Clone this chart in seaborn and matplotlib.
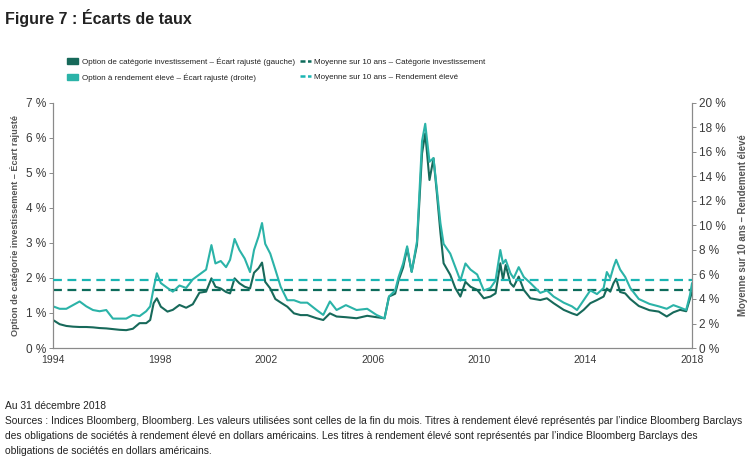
import numpy as np
import pandas as pd
import matplotlib
matplotlib.use("Agg")
import matplotlib.pyplot as plt
from matplotlib.lines import Line2D
from matplotlib.patches import Patch
import seaborn as sns

# Dates (fractional years on the chart's axis)
dates = [1994.00, 1994.25, 1994.50, 1994.75, 1995.00, 1995.25, 1995.50, 1995.75,
         1996.00, 1996.25, 1996.50, 1996.75, 1997.00, 1997.25, 1997.50, 1997.65,
         1997.78, 1997.90, 1998.05, 1998.30, 1998.50, 1998.75, 1999.00, 1999.25,
         1999.50, 1999.75, 1999.95, 2000.10, 2000.30, 2000.50, 2000.65, 2000.82,
         2001.00, 2001.20, 2001.40, 2001.55, 2001.72, 2001.85, 2001.97, 2002.16,
         2002.35, 2002.55, 2002.80, 2003.05, 2003.30, 2003.55, 2003.90, 2004.15,
         2004.40, 2004.65, 2005.00, 2005.40, 2005.80, 2006.15, 2006.45, 2006.62,
         2006.85, 2006.98, 2007.15, 2007.30, 2007.47, 2007.67, 2007.86, 2007.98,
         2008.14, 2008.29, 2008.42, 2008.55, 2008.67, 2008.92, 2009.11, 2009.30,
         2009.49, 2009.68, 2009.93, 2010.18, 2010.43, 2010.62, 2010.80, 2010.90,
         2011.00, 2011.18, 2011.30, 2011.49, 2011.68, 2011.93, 2012.30, 2012.55,
         2012.80, 2013.18, 2013.49, 2013.68, 2013.93, 2014.18, 2014.43, 2014.68,
         2014.80, 2014.93, 2015.05, 2015.15, 2015.30, 2015.49, 2015.68, 2016.00,
         2016.40, 2016.75, 2017.05, 2017.30, 2017.55, 2017.78, 2017.92, 2018.00]

# Investment grade adjusted spread (left axis, %)
ig_spread = [0.80, 0.68, 0.63, 0.61, 0.60, 0.60, 0.59, 0.57,
             0.56, 0.54, 0.52, 0.51, 0.55, 0.71, 0.71, 0.80,
             1.28, 1.42, 1.18, 1.04, 1.09, 1.23, 1.15, 1.25,
             1.58, 1.61, 1.99, 1.75, 1.70, 1.60, 1.56, 1.99,
             1.85, 1.75, 1.70, 2.15, 2.28, 2.44, 1.89, 1.70,
             1.40, 1.30, 1.18, 0.99, 0.94, 0.94, 0.85, 0.80,
             0.99, 0.90, 0.88, 0.85, 0.92, 0.88, 0.85, 1.47,
             1.55, 1.94, 2.30, 2.85, 2.18, 2.95, 5.56, 6.13,
             4.80, 5.42, 4.40, 3.30, 2.42, 2.09, 1.71, 1.47,
             1.89, 1.75, 1.66, 1.42, 1.47, 1.56, 2.42, 1.95,
             2.37, 1.85, 1.75, 2.04, 1.66, 1.42, 1.37, 1.42,
             1.28, 1.09, 0.99, 0.94, 1.09, 1.28, 1.37, 1.47,
             1.70, 1.61, 1.85, 1.98, 1.60, 1.56, 1.40, 1.20,
             1.08, 1.04, 0.90, 1.02, 1.09, 1.05, 1.40, 1.60]

# High yield adjusted spread (right axis, %)
hy_spread = [3.4, 3.2, 3.2, 3.5, 3.8, 3.4, 3.1, 3.0,
             3.1, 2.4, 2.4, 2.4, 2.7, 2.6, 3.0, 3.4,
             4.9, 6.1, 5.3, 4.9, 4.6, 5.1, 4.9, 5.6,
             6.0, 6.4, 8.4, 6.9, 7.1, 6.6, 7.2, 8.9,
             8.0, 7.3, 6.2, 8.0, 9.1, 10.2, 8.5, 7.7,
             6.4, 5.0, 3.9, 3.9, 3.7, 3.7, 3.1, 2.7,
             3.8, 3.1, 3.5, 3.1, 3.2, 2.7, 2.4, 4.2,
             4.7, 5.8, 6.9, 8.3, 6.2, 8.7, 16.9, 18.3,
             15.2, 15.5, 12.9, 10.2, 8.5, 7.7, 6.6, 5.5,
             6.9, 6.4, 6.0, 4.7, 4.9, 5.5, 8.0, 6.9,
             7.2, 6.1, 5.7, 6.6, 5.8, 5.3, 4.5, 4.7,
             4.2, 3.7, 3.4, 3.1, 3.9, 4.7, 4.4, 4.9,
             6.2, 5.7, 6.6, 7.2, 6.4, 5.8, 4.9, 4.0,
             3.6, 3.4, 3.2, 3.5, 3.3, 3.1, 4.3, 5.3]

ig_avg = 1.65   # 10-year average, investment grade (left axis)
hy_avg = 5.54   # 10-year average, high yield (right axis)

year_ticks = [1994, 1998, 2002, 2006, 2010, 2014, 2018]
left_ticks = [0, 1, 2, 3, 4, 5, 6, 7]
right_ticks = [0, 2, 4, 6, 8, 10, 12, 14, 16, 18, 20]

DARK = "#17695a"
LIGHT = "#2bb3a8"
DARK_DASH = "#0d6b5b"
LIGHT_DASH = "#1bb5b3"
TXT = "#3a3a3a"

sns.set_style("white")
plt.rcParams['font.family'] = ['Liberation Sans', 'DejaVu Sans']

df = pd.DataFrame({"date": dates, "ig": ig_spread, "hy": hy_spread})

fig = plt.figure(figsize=(7.55, 4.65), dpi=100)
ax = fig.add_axes([0.0702, 0.2516, 0.8464, 0.527])
ax2 = ax.twinx()

sns.lineplot(data=df, x="date", y="ig", ax=ax, color=DARK, lw=1.5, zorder=3)
sns.lineplot(data=df, x="date", y="hy", ax=ax2, color=LIGHT, lw=1.5, zorder=2)
ax.axhline(ig_avg, color=DARK_DASH, lw=1.6, ls=(0, (4, 2.5)), zorder=4)
ax2.axhline(hy_avg, color=LIGHT_DASH, lw=1.6, ls=(0, (4, 2.5)), zorder=4)

ax.set_xlim(1994, 2018)
ax.set_ylim(0, 7)
ax2.set_ylim(0, 20)
ax.set_xticks(year_ticks)
ax.set_xticklabels([str(y) for y in year_ticks], fontsize=7.5, color=TXT)
ax.set_yticks(left_ticks)
ax.set_yticklabels([f"{t}\u00a0%" for t in left_ticks], fontsize=8.5, color=TXT)
ax2.set_yticks(right_ticks)
ax2.set_yticklabels([f"{t}\u00a0%" for t in right_ticks], fontsize=8.5, color=TXT)
ax.set_xlabel("")
ax.set_ylabel("Option de catégorie investissement – Écart rajusté",
              fontsize=6.6, color="#555555", fontweight="bold", labelpad=4)
ax2.set_ylabel("Moyenne sur 10 ans – Rendement élevé",
               fontsize=6.9, color="#555555", fontweight="bold", labelpad=9)

for a in (ax, ax2):
    a.spines["top"].set_visible(False)
    for s in ("left", "right", "bottom"):
        a.spines[s].set_color("#8a8a8a")
        a.spines[s].set_linewidth(0.8)
    a.tick_params(length=3, width=0.7, color="#8a8a8a", pad=2)

# legend
handles = [Patch(facecolor=DARK, edgecolor=DARK),
           Patch(facecolor=LIGHT, edgecolor=LIGHT),
           Line2D([], [], color=DARK_DASH, lw=1.8, ls=(0, (2, 1))),
           Line2D([], [], color=LIGHT_DASH, lw=1.8, ls=(0, (2, 1)))]
labels = ["Option de catégorie investissement – Écart rajusté (gauche)",
          "Option à rendement élevé – Écart rajusté (droite)",
          "Moyenne sur 10 ans – Catégorie investissement",
          "Moyenne sur 10 ans – Rendement élevé"]
fig.legend(handles, labels, loc="upper left", bbox_to_anchor=(0.089, 0.877),
           ncol=2, frameon=False, fontsize=5.8, handlelength=1.4, handleheight=0.9,
           handletextpad=0.4, columnspacing=0.6, labelspacing=0.95,
           borderpad=0, borderaxespad=0, labelcolor="#222222")

fig.text(0.007, 0.962, "Figure 7 : Écarts de taux", fontsize=11.5, fontweight="bold",
         color="#222222", va="center")

foot = ("Au 31 décembre 2018\n"
        "Sources : Indices Bloomberg, Bloomberg. Les valeurs utilisées sont celles de la fin du mois. "
        "Titres à rendement élevé représentés par l’indice Bloomberg Barclays\n"
        "des obligations de sociétés à rendement élevé en dollars américains. "
        "Les titres à rendement élevé sont représentés par l’indice Bloomberg Barclays des\n"
        "obligations de sociétés en dollars américains.")
fig.text(0.007, 0.137, foot, fontsize=7.4, color="#222222", va="top", linespacing=1.6)

fig.savefig("out.png", dpi=100)
